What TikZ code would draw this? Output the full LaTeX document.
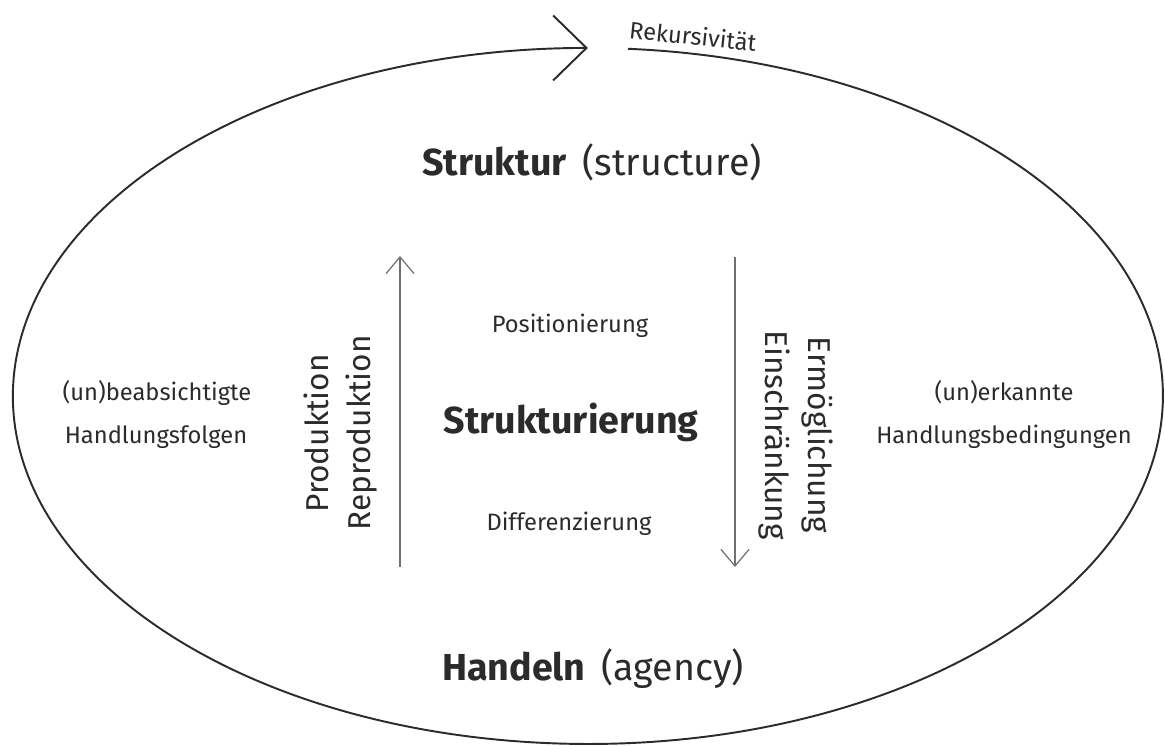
\documentclass[tikz,border=0pt]{standalone}
\usepackage{fontspec}
\setmainfont{Fira Sans}
\usepackage{tikz}
\usetikzlibrary{arrows.meta}
\definecolor{ink}{HTML}{2B2B2B}
\definecolor{flow}{HTML}{707070}

\begin{document}
\begin{tikzpicture}[x=0.02cm, y=0.02cm,
        ring/.style={draw=ink, line width=1.1pt, -{Straight Barb[length=19pt, width=37pt]}},
        flowarrow/.style={draw=flow, line width=0.7pt, -{Straight Barb[length=9.5pt, width=16pt]}},
        smalltxt/.style={text=ink, inner sep=0pt, anchor=base, font=\fontsize{13.5}{16}\selectfont},
        sidetxt/.style={text=ink, inner sep=0pt, anchor=base, font=\fontsize{18}{21}\selectfont},
        bigtxt/.style={text=ink, inner sep=0pt, anchor=base, font=\fontsize{21.4}{25}\selectfont}]
        \useasboundingbox (0,0) rectangle (1165,745);

        % Rekursivitaet
        \draw[ring] (628,696.2) arc[start angle=86, end angle=-270, x radius=575, y radius=348];
        \node[smalltxt, rotate=-6] (rek) at (692,700) {Rekursivität};

        % main terms
        \node[bigtxt] (struktur) at (592,570) {\textbf{Struktur}\hspace{0.42em}(structure)};
        \node[bigtxt] (handeln) at (593,65) {\textbf{Handeln}\hspace{0.42em}(agency)};
        \node[bigtxt] (strukturierung) at (571,312) {\textbf{Strukturierung}};
        \node[smalltxt] (posit) at (570,413) {Positionierung};
        \node[smalltxt] (diff) at (569,215) {Differenzierung};

        % sides
        \node[smalltxt] (unbeab) at (157,345) {(un)beabsichtigte};
        \node[smalltxt] (folgen) at (156,302) {Handlungsfolgen};
        \node[smalltxt] (unerk) at (1004,345) {(un)erkannte};
        \node[smalltxt] (bedingungen) at (1004,302) {Handlungsbedingungen};

        % up / down
        \coordinate (up0) at (400,178);
        \coordinate (up1) at (400,489);
        \coordinate (down0) at (735,488);
        \coordinate (down1) at (735,178);
        \draw[flowarrow] (up0) -- (up1);
        \draw[flowarrow] (down0) -- (down1);
        \node[sidetxt, rotate=90] (prod) at (328,311.5) {Produktion};
        \node[sidetxt, rotate=90] (reprod) at (370,312) {Reproduktion};
        \node[sidetxt, rotate=-90] (ermoeg) at (808,310) {Ermöglichung};
        \node[sidetxt, rotate=-90] (einschr) at (765,310) {Einschränkung};
    \end{tikzpicture}
\end{document}
